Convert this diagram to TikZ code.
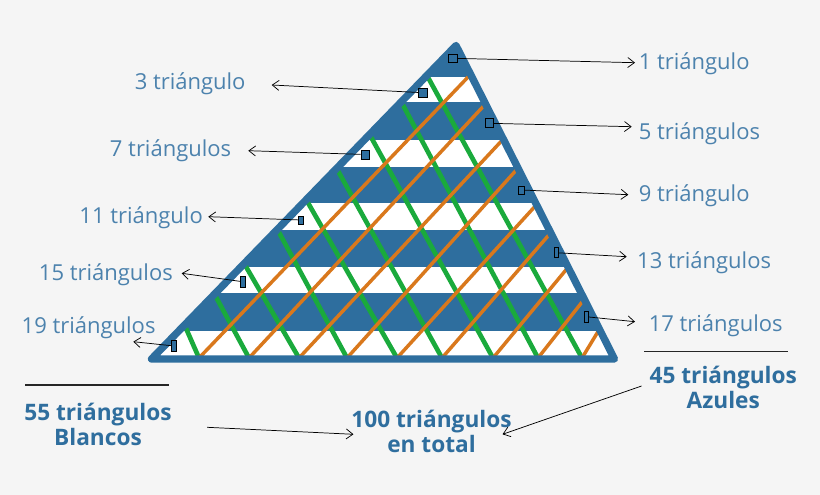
\documentclass[tikz,border=0pt]{standalone}
\usepackage{fontspec}
\setmainfont{Open Sans}
\usetikzlibrary{arrows.meta,calc}

\definecolor{bgGrey}{HTML}{F5F5F5}
\definecolor{triBlue}{HTML}{2E6E9E}
\definecolor{txtBlue}{HTML}{4C82AD}
\definecolor{boldBlue}{HTML}{2F6E9E}
\definecolor{lineGreen}{HTML}{1AAA3C}
\definecolor{lineOrange}{HTML}{D9781C}

\tikzset{every picture/.style={line width=0.75pt}}
\tikzset{
  markbox/.style={draw=black, fill=triBlue, line width=0.5pt, inner sep=0pt},
  lbl/.style={text=txtBlue, inner sep=0pt, font=\fontsize{16.5}{19}\selectfont},
  totlbl/.style={text=boldBlue, inner sep=0pt, align=center, font=\fontsize{17}{18.75}\selectfont\bfseries},
  ptr/.style={-{Straight Barb[length=5pt,width=7.5pt]}, line width=0.55pt, black},
  sepline/.style={line width=0.8pt, black!85},
  grnline/.style={lineGreen, line width=3.5pt},
  orgline/.style={lineOrange, line width=2.6pt, line cap=round},
}

\begin{document}
\begin{tikzpicture}[x=0.75pt,y=0.75pt,yscale=-1,xscale=1]
%set diagram left start at 0, and has height of 495
\fill[bgGrey] (0,0) rectangle (820,495);

%Shape: Triangle
\coordinate (A) at (456,45.5);
\coordinate (B) at (151.5,359);
\coordinate (C) at (614.5,359);
\fill[triBlue] (A) -- (B) -- (C) -- cycle;
\begin{scope}
\clip (A) -- (B) -- (C) -- cycle;
%Shape: white rows
\foreach \ya/\yb in {77/102,140/167,203/230,267/293,331/359}
  \fill[white] (140,\ya) rectangle (630,\yb);
%Straight Lines: green
\foreach \bx/\tx/\ty in {199/186/328.3,249/214/293.3,299/245/265,347/277.7/230,397/307.7/202.3,
                         442/336/167.3,493/369.3/134,538/401.7/102.7,582/426.7/75}
  \draw[grnline] (\bx,358) -- (\tx,\ty);
%Straight Lines: orange
\foreach \bx/\tx/\ty in {199/470/75,249/486.7/102.7,299/503.3/139,347/519.3/166.7,397/538.3/202.7,
                         442/551.7/231.7,493/570/265,538/585/298.3,582/600/328.3}
  \draw[orgline] (\bx,358) -- (\tx,\ty);
\end{scope}
\draw[triBlue, line width=5.5pt, line join=round] (A) -- (B) -- (C) -- cycle;

%Shape: Rectangle markers
\node (m1) [markbox, minimum width=6.75pt, minimum height=6pt] at (452.7,58.3) {};
\node (m2) [markbox, minimum width=6.75pt, minimum height=6.75pt] at (422.7,92.7) {};
\node (m3) [markbox, minimum width=6pt, minimum height=6.75pt] at (489.3,123.3) {};
\node (m4) [markbox, minimum width=6pt, minimum height=6.75pt] at (365,154.5) {};
\node (m5) [markbox, minimum width=4.5pt, minimum height=6pt] at (521.7,190) {};
\node (m6) [markbox, minimum width=3.75pt, minimum height=6pt] at (301,220) {};
\node (m7) [markbox, minimum width=3pt, minimum height=7.5pt] at (556,252.7) {};
\node (m8) [markbox, minimum width=3.75pt, minimum height=8.25pt] at (242.7,281.7) {};
\node (m9) [markbox, minimum width=3pt, minimum height=8.25pt] at (586,316.7) {};
\node (m10) [markbox, minimum width=3.75pt, minimum height=8.25pt] at (174.3,346) {};

% Text Node
\node (l1) [lbl, anchor=base west] at (638.3,70) {1 triángulo};
\node (l2) [lbl, anchor=base east] at (246,90) {3 triángulo};
\node (l3) [lbl, anchor=base west] at (638.3,140) {5 triángulos};
\node (l4) [lbl, anchor=base east] at (231.7,156.7) {7 triángulos};
\node (l5) [lbl, anchor=base west] at (638.3,201.7) {9 triángulo};
\node (l6) [lbl, anchor=base east] at (203.3,223.3) {11 triángulo};
\node (l7) [lbl, anchor=base west] at (636.7,268.3) {13 triángulos};
\node (l8) [lbl, anchor=base east] at (173.3,280) {15 triángulos};
\node (l9) [lbl, anchor=base west] at (648.3,331.7) {17 triángulos};
\node (l10) [lbl, anchor=base east] at (156,333.3) {19 triángulos};
% Text Node
\node (t45) [totlbl] at (723.3,387) {45 triángulos\\Azules};
\node (t55) [totlbl] at (98,424.5) {55 triángulos\\Blancos};
\node (t100) [totlbl] at (431.5,431) {100 triángulos\\en total};

%Straight Lines
\draw[sepline] (25,385) -- (169,385);
\draw[sepline] (644.3,351.7) -- (788.3,351.7);

%Arrows
\draw[ptr] (m1) -- ($(l1.base west)+(-3.3,-7.3)$);
\draw[ptr] (m2) -- ($(l2.base east)+(25.7,-5)$);
\draw[ptr] (m3) -- ($(l3.base west)+(-6.6,-13.3)$);
\draw[ptr] (m4) -- ($(l4.base east)+(16.6,-6)$);
\draw[ptr] (m5) -- ($(l5.base west)+(-10,-7)$);
\draw[ptr] (m6) -- ($(l6.base east)+(5,-6.6)$);
\draw[ptr] (m7) -- ($(l7.base west)+(-10,-11.6)$);
\draw[ptr] (m8) -- ($(l8.base east)+(8.4,-6.7)$);
\draw[ptr] (m9) -- ($(l9.base west)+(-13.3,-10)$);
\draw[ptr] (m10) -- ($(l10.base east)+(-22.7,8.4)$);
\draw[ptr] ($(t55.east)+(35,2.8)$) -- ($(t100.west)+(2.6,3.3)$);
\draw[ptr] ($(t45.west)+(-7.6,-1)$) -- ($(t100.east)+(-9.6,3.3)$);

\end{tikzpicture}
\end{document}
